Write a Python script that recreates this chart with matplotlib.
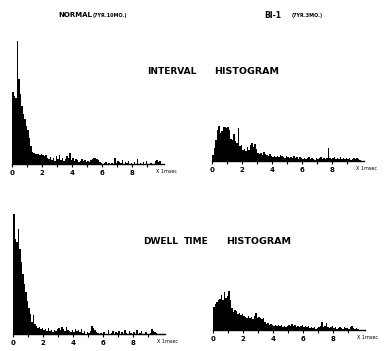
import matplotlib
matplotlib.use("Agg")
import matplotlib.pyplot as plt
import numpy as np

W, H = 386, 351

# bin heights, 0.1 msec bins from 0 to 10 msec
bins = np.arange(0, 10, 0.1)

normal_interval = [72, 68, 66, 123, 85, 70, 58, 50, 45, 38,
                   34, 26, 18, 12, 11, 10, 10, 10, 9, 10,
                   9, 8, 9, 6, 5, 7, 4, 6, 3, 8,
                   5, 9, 4, 6, 3, 5, 8, 6, 11, 4,
                   6, 3, 5, 4, 2, 3, 5, 3, 4, 2,
                   3, 2, 4, 5, 6, 6, 5, 4, 2, 1,
                   0, 1, 2, 0, 1, 0, 1, 0, 6, 1,
                   3, 2, 1, 4, 0, 2, 1, 3, 0, 1,
                   0, 2, 0, 5, 0, 1, 0, 2, 0, 3,
                   0, 0, 1, 0, 0, 3, 4, 2, 3, 0]

bi1_interval = [6, 13, 21, 31, 35, 28, 30, 34, 34, 33,
                34, 31, 22, 21, 27, 20, 18, 33, 15, 16,
                11, 12, 10, 14, 11, 16, 18, 14, 17, 12,
                8, 7, 8, 6, 9, 7, 6, 5, 7, 5,
                4, 5, 4, 5, 4, 6, 5, 4, 3, 5,
                4, 3, 4, 3, 5, 3, 4, 2, 4, 3,
                2, 3, 2, 3, 4, 2, 3, 2, 1, 3,
                2, 3, 4, 2, 3, 2, 3, 13, 3, 2,
                3, 4, 2, 3, 2, 4, 2, 3, 2, 3,
                2, 3, 1, 2, 3, 2, 3, 2, 1, 0]

normal_dwell = [120, 95, 92, 105, 85, 72, 60, 50, 42, 33,
                26, 20, 12, 19, 10, 8, 6, 7, 5, 6,
                4, 5, 3, 6, 3, 4, 2, 4, 3, 5,
                6, 4, 7, 5, 3, 7, 4, 3, 2, 4,
                2, 5, 3, 4, 2, 5, 1, 3, 0, 2,
                1, 3, 8, 6, 4, 2, 1, 0, 1, 0,
                2, 0, 0, 4, 0, 1, 3, 0, 2, 1,
                3, 0, 2, 0, 4, 1, 0, 3, 1, 0,
                2, 0, 4, 0, 1, 3, 0, 0, 2, 0,
                0, 1, 5, 3, 2, 1, 0, 0, 0, 0]

bi1_dwell = [23, 26, 28, 30, 31, 35, 30, 38, 32, 34,
             39, 30, 22, 18, 20, 19, 16, 17, 15, 16,
             14, 13, 12, 14, 12, 13, 11, 14, 17, 12,
             13, 12, 11, 12, 8, 6, 7, 5, 6, 5,
             4, 5, 4, 5, 4, 5, 3, 4, 3, 4,
             5, 4, 6, 4, 5, 3, 4, 3, 4, 5,
             3, 4, 3, 4, 2, 3, 2, 3, 1, 2,
             3, 4, 8, 3, 4, 7, 3, 2, 3, 4,
             2, 3, 1, 2, 3, 2, 1, 3, 2, 2,
             1, 3, 4, 2, 1, 2, 1, 0, 0, 0]

tick_pos = list(range(10))
tick_labels = ['0', '', '2', '', '4', '', '6', '', '8', '']

fig = plt.figure(figsize=(W / 100, H / 100), dpi=100)
fig.patch.set_facecolor('white')

PX = 15.0  # pixels per msec


def panel(x0, base, heights):
    # x0: pixel of x=0, base: pixel row of the baseline (from top)
    left = x0 - 0.5 * PX
    width = 11.0 * PX
    ax = fig.add_axes([left / W, (H - base) / H, width / W, 130 / H])
    ax.bar(bins, heights, width=0.1, align='edge', color='black', linewidth=0)
    ax.set_xlim(-0.5, 10.5)
    ax.set_ylim(0, 130)
    for s in ['top', 'right', 'left']:
        ax.spines[s].set_visible(False)
    ax.spines['bottom'].set_bounds(0, 10.1)
    ax.spines['bottom'].set_linewidth(1.0)
    ax.set_yticks([])
    ax.set_xticks(tick_pos)
    ax.set_xticklabels(tick_labels, fontsize=5, fontweight='bold')
    ax.tick_params(axis='x', direction='out', length=2.5, width=0.8, pad=1.5)
    ax.patch.set_alpha(0)
    ax.text(9.6, -7.5, 'X 1msec', fontsize=3.5, ha='left', va='center')
    return ax


panel(12, 164, normal_interval)
panel(212, 161, bi1_interval)
panel(13, 334, normal_dwell)
panel(213, 330, bi1_dwell)


def ftext(x, y, s, size):
    fig.text(x / W, 1 - y / H, s, fontsize=size, va='center', ha='left',
             fontweight='bold')


ftext(58, 15, 'NORMAL', 5)
ftext(93, 15, '(7YR.10MO.)', 3.5)
ftext(264, 15, 'BI-1', 5.5)
ftext(292, 15, '(7YR.3MO.)', 3.5)
ftext(147, 71, 'INTERVAL', 6.5)
ftext(214, 71, 'HISTOGRAM', 6.8)
ftext(143, 241, 'DWELL', 6.5)
ftext(184, 241, 'TIME', 6.5)
ftext(226, 241, 'HISTOGRAM', 6.8)

fig.savefig('out.png', dpi=100)
